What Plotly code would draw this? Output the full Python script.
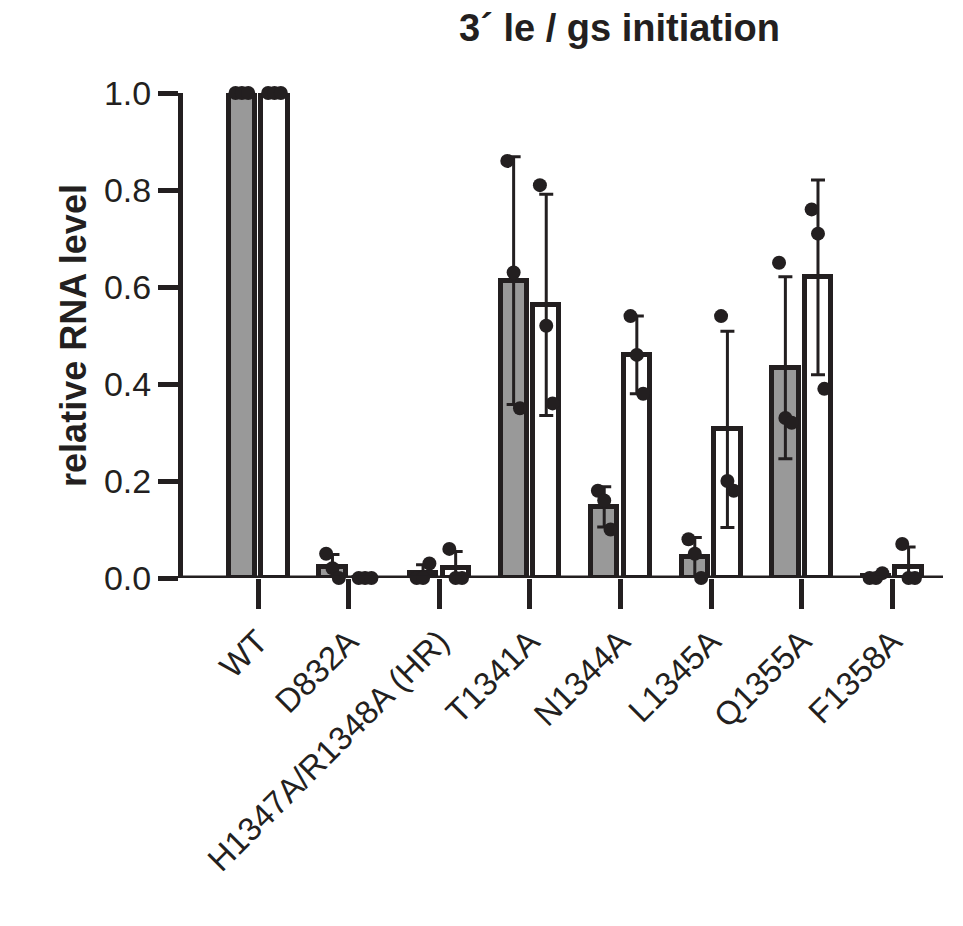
import numpy as np
import plotly.graph_objects as go

categories = ["WT", "D832A", "H1347A/R1348A (HR)", "T1341A", "N1344A", "L1345A", "Q1355A", "F1358A"]
gray_reps = [[1.0, 1.0, 1.0], [0.05, 0.02, 0.0], [0.0, 0.0, 0.03], [0.86, 0.63, 0.35],
             [0.18, 0.16, 0.10], [0.08, 0.05, 0.0], [0.65, 0.33, 0.32], [0.0, 0.0, 0.01]]
white_reps = [[1.0, 1.0, 1.0], [0.0, 0.0, 0.0], [0.06, 0.0, 0.0], [0.81, 0.52, 0.36],
              [0.54, 0.46, 0.38], [0.54, 0.20, 0.18], [0.76, 0.71, 0.39], [0.07, 0.0, 0.0]]
y_ticks = [0.0, 0.2, 0.4, 0.6, 0.8, 1.0]

fig = go.Figure()
idx = np.arange(len(categories))
jit = [-0.07, 0.0, 0.07]
for reps, off, fill in [(gray_reps, -0.18, "#999999"), (white_reps, 0.18, "white")]:
    arr = np.array(reps)
    mean = arr.mean(axis=1)
    sd = arr.std(axis=1, ddof=1)
    fig.add_trace(go.Bar(x=idx + off, y=mean, width=0.29, marker=dict(color=fill, line=dict(color="#231f20", width=5)),
                         error_y=dict(type="data", array=sd, color="#231f20", thickness=3, width=7),
                         showlegend=False))
    xs, ys = [], []
    for i, r in enumerate(reps):
        for j, v in enumerate(r):
            xs.append(i + off + jit[j]); ys.append(v)
    fig.add_trace(go.Scatter(x=xs, y=ys, mode="markers", marker=dict(color="#231f20", size=14),
                             cliponaxis=False, showlegend=False))

fig.update_layout(
    width=963, height=926, plot_bgcolor="white", paper_bgcolor="white",
    margin=dict(l=175, r=28, t=85, b=356),
    font=dict(family="Liberation Sans, Arial", color="#231f20"),
    title=dict(text="<b>3´ le / gs initiation</b>", x=0.635, xanchor="center", y=0.993, yanchor="top",
               font=dict(size=38, color="#231f20")),
    bargap=0,
)
fig.update_xaxes(range=[-0.83, 7.56], tickvals=idx, ticktext=categories, tickangle=-45, automargin=False,
                 tickfont=dict(size=33), ticks="outside", ticklen=30, tickwidth=5, tickcolor="#231f20",
                 showline=False, showgrid=False, zeroline=False)
fig.update_yaxes(range=[0, 1.0], tickvals=y_ticks, ticktext=["0.0", "0.2", "0.4", "0.6", "0.8", "1.0"],
                 automargin=False,
                 tickfont=dict(size=34), ticks="outside", ticklen=20, tickwidth=5, tickcolor="#231f20",
                 showline=True, linewidth=5, linecolor="#231f20", showgrid=False, zeroline=False,
                 title=dict(text="<b>relative RNA level</b>", font=dict(size=36), standoff=8))
fig.add_shape(type="line", xref="paper", yref="y", x0=0, x1=1, y0=0, y1=0,
              line=dict(color="#231f20", width=5))
fig.write_html("out.html")
